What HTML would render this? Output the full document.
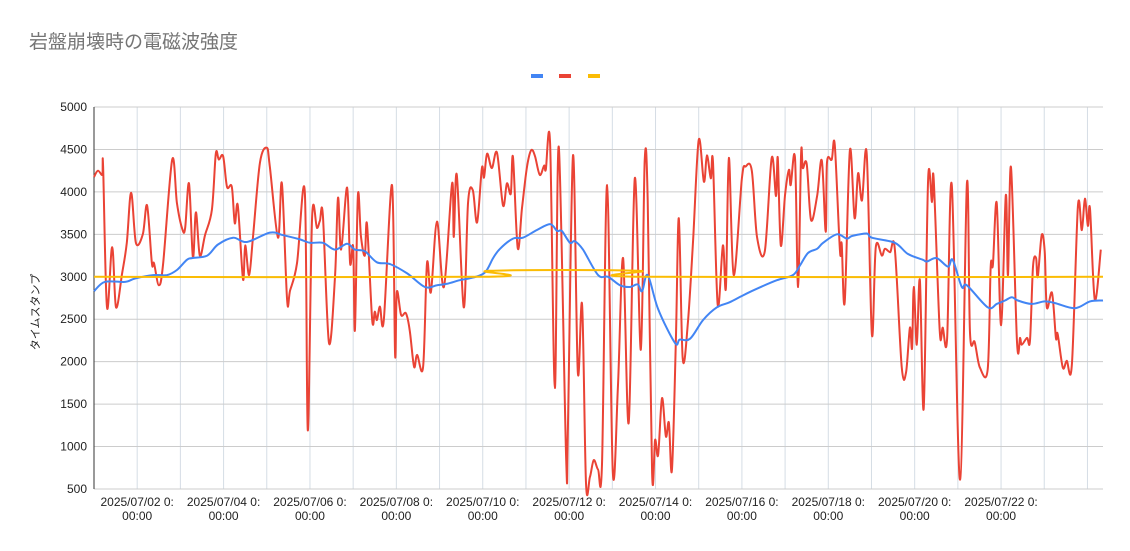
<!DOCTYPE html>
<html><head><meta charset="utf-8">
<style>
body{margin:0;background:#fff;}
svg{display:block;font-family:"Liberation Sans","Noto Sans CJK JP",sans-serif;}
</style></head>
<body>
<svg id="chart" width="1130" height="551" viewBox="0 0 1130 551" xmlns="http://www.w3.org/2000/svg">
<rect width="1130" height="551" fill="#fff"/>
<text x="29" y="48" font-size="19" fill="#757575">岩盤崩壊時の電磁波強度</text>
<g>
<rect x="531" y="74" width="12" height="4" fill="#4285f4"/>
<rect x="559" y="74" width="12" height="4" fill="#ea4335"/>
<rect x="588" y="74" width="12" height="4" fill="#fbbc04"/>
</g>
<text transform="translate(39,312) rotate(-90)" text-anchor="middle" font-size="11" fill="#222">タイムスタンプ</text>
<g id="grid"></g><g id="yticks"></g><g id="xticks"></g><g id="series"></g>
</svg>
<script>
const yTicks=[500,1000,1500,2000,2500,3000,3500,4000,4500,5000];
const xTickDays=[1,3,5,7,9,11,13,15,17,19,21];
const xTickLabels=["2025/07/02 0:","2025/07/04 0:","2025/07/06 0:","2025/07/08 0:","2025/07/10 0:","2025/07/12 0:","2025/07/14 0:","2025/07/16 0:","2025/07/18 0:","2025/07/20 0:","2025/07/22 0:"];
const dayMax=23.36;
const blueDays=[0,0.25,0.72,0.95,1.37,1.69,1.92,2.15,2.27,2.62,2.87,3.22,3.54,4.07,4.38,4.77,5.00,5.30,5.58,5.86,6.04,6.27,6.55,6.85,7.25,7.66,7.94,8.19,8.47,8.77,9.05,9.24,9.40,9.70,9.93,10.25,10.56,10.72,10.83,11.02,11.13,11.32,11.67,11.90,12.18,12.41,12.59,12.69,12.82,13.06,13.45,13.56,13.80,14.10,14.42,14.72,15.02,15.35,15.81,16.18,16.34,16.53,16.74,16.88,17.20,17.43,17.55,17.89,18.01,18.54,18.84,19.19,19.28,19.51,19.77,19.88,20.09,20.21,20.69,20.90,21.09,21.25,21.39,21.71,22.01,22.25,22.71,23.06,23.36];
const blueValues=[2830,2940,2940,2980,3020,3020,3080,3200,3220,3250,3380,3460,3410,3520,3490,3440,3400,3400,3320,3390,3320,3300,3170,3150,3040,2880,2900,2920,2960,2990,3050,3220,3330,3450,3460,3550,3620,3540,3540,3400,3420,3320,3020,3000,2900,2880,2910,2830,3020,2620,2220,2260,2270,2490,2640,2700,2780,2860,2960,3020,3130,3280,3330,3400,3500,3450,3480,3510,3460,3400,3270,3200,3180,3220,3120,3200,2880,2900,2640,2680,2720,2760,2720,2680,2710,2690,2630,2710,2720];
const redDays=[0,0.09,0.19,0.21,0.30,0.42,0.51,0.65,0.76,0.86,0.97,1.13,1.23,1.34,1.39,1.50,1.60,1.81,1.92,2.04,2.11,2.20,2.29,2.36,2.45,2.57,2.73,2.82,2.89,2.99,3.08,3.19,3.26,3.33,3.45,3.50,3.59,3.68,3.84,4.00,4.07,4.26,4.35,4.47,4.54,4.70,4.88,4.95,5.05,5.16,5.23,5.30,5.44,5.58,5.65,5.72,5.86,5.93,6.00,6.04,6.11,6.18,6.27,6.32,6.44,6.50,6.55,6.62,6.71,6.90,6.97,7.01,7.11,7.22,7.31,7.41,7.48,7.62,7.71,7.80,7.94,8.10,8.29,8.33,8.40,8.56,8.66,8.77,8.87,8.98,9.03,9.10,9.21,9.33,9.47,9.56,9.65,9.70,9.81,9.91,10.02,10.12,10.21,10.32,10.42,10.46,10.56,10.67,10.76,10.93,10.97,11.09,11.20,11.30,11.39,11.48,11.57,11.67,11.76,11.88,12.01,12.13,12.25,12.38,12.52,12.66,12.75,12.82,12.92,12.99,13.06,13.15,13.24,13.31,13.38,13.47,13.54,13.63,13.75,13.87,14.00,14.12,14.19,14.28,14.33,14.44,14.56,14.63,14.70,14.81,15.00,15.09,15.23,15.35,15.53,15.69,15.79,15.83,15.90,16.00,16.09,16.13,16.23,16.30,16.37,16.41,16.50,16.60,16.74,16.85,16.94,16.97,17.08,17.15,17.27,17.31,17.38,17.50,17.61,17.69,17.78,17.89,18.01,18.10,18.24,18.31,18.43,18.54,18.70,18.80,18.89,18.94,18.98,19.05,19.12,19.21,19.31,19.40,19.44,19.58,19.65,19.75,19.86,20.05,20.21,20.28,20.39,20.51,20.69,20.76,20.81,20.90,21.00,21.11,21.16,21.23,21.37,21.44,21.48,21.60,21.67,21.74,21.81,21.85,21.94,22.01,22.06,22.18,22.27,22.31,22.43,22.52,22.64,22.78,22.87,22.94,23.01,23.06,23.17,23.31];
const redValues=[4175,4250,4200,4300,2640,3350,2640,3040,3400,3990,3400,3500,3840,3160,3160,2900,3150,4380,3870,3570,3570,4100,3230,3760,3250,3490,3790,4450,4380,4420,4060,4060,3630,3840,2970,3370,3020,3470,4340,4520,4300,3460,4100,2730,2840,3160,4000,1190,3700,3575,3660,3720,2220,3000,3930,3320,4050,3160,3350,2370,3960,3480,3250,3620,2490,2590,2490,2650,2490,4080,2080,2820,2550,2570,2370,1940,2080,1940,3160,2820,3650,2880,4100,3470,4200,2640,3880,4020,3640,4280,4170,4450,4280,4460,3840,4100,3980,4410,3340,3810,4280,4490,4420,4200,4310,4260,4570,1690,4530,880,1160,4430,1880,2670,570,640,840,730,790,4080,700,1700,3220,1280,4160,2140,4370,3900,690,1080,900,1570,1120,1280,720,2220,3690,2040,2460,3430,4610,4120,4430,4160,4350,2670,3370,2870,4400,3020,4160,4300,4250,3470,3300,4400,3950,4400,3370,3970,4260,4080,4400,2880,4450,4280,4330,3670,3950,4370,3530,4350,4380,4550,3300,3390,2700,4490,3690,4220,3900,4450,2320,3350,3250,3330,3290,3330,1940,1870,2400,2160,2880,2200,2960,1450,4140,3880,4150,2370,2400,2270,4080,610,4100,2340,2230,1930,1910,3120,3140,3870,2430,3960,3020,4290,2230,2280,2200,2280,2250,3120,3220,3000,3490,3300,2640,2810,2280,2330,1930,2010,1970,3830,3550,3920,3600,3800,2730,3320];
const yellowDays=[0,9.07,9.15,12.60,12.68,23.36];
const yellowValues=[3000,3000,3070,3070,3000,3000];

const X0=94,X1=1103,Y0=489,Y1=107,VMIN=500,VMAX=5000;
const xs=d=>X0+(d/dayMax)*(X1-X0);
const ys=v=>Y0-(v-VMIN)/(VMAX-VMIN)*(Y0-Y1);
const NS="http://www.w3.org/2000/svg";
function mk(tag,parent){const e=document.createElementNS(NS,tag);parent.appendChild(e);return e;}
const grid=document.getElementById('grid'),yt=document.getElementById('yticks'),xt=document.getElementById('xticks'),ser=document.getElementById('series');
for(let d=1;d<dayMax;d++){
  const l=mk('line',grid);
  
  
  l.setAttribute('x1',xs(d));l.setAttribute('x2',xs(d));l.setAttribute('y1',Y1);l.setAttribute('y2',Y0);
  l.setAttribute('stroke','#d5dde5');l.setAttribute('stroke-width','1');
}
yTicks.forEach(v=>{
  const l=mk('line',grid);
  
  
  l.setAttribute('x1',X0);l.setAttribute('x2',X1);l.setAttribute('y1',ys(v));l.setAttribute('y2',ys(v));
  l.setAttribute('stroke','#cccccc');l.setAttribute('stroke-width','1');
  const t=mk('text',yt);
  
  
  t.setAttribute('x',87);t.setAttribute('y',ys(v)+4);t.setAttribute('text-anchor','end');t.setAttribute('font-size','12');t.setAttribute('fill','#222');
  t.textContent=v;
});
xTickDays.forEach((d,i)=>{
  const t=mk('text',xt);
  
  
  t.setAttribute('text-anchor','middle');t.setAttribute('font-size','12');t.setAttribute('fill','#222');
  const a=mk('tspan',t);a.setAttribute('x',xs(d));a.setAttribute('y',506);a.textContent=xTickLabels[i];
  const b=mk('tspan',t);b.setAttribute('x',xs(d));b.setAttribute('y',520);b.textContent='00:00';
});
const ax=mk('line',grid);


ax.setAttribute('x1',X0);ax.setAttribute('x2',X0);ax.setAttribute('y1',Y1);ax.setAttribute('y2',Y0);ax.setAttribute('stroke','#333');
function smooth(days,vals){
  const p=days.map((d,i)=>[xs(d),ys(vals[i])]);
  let s='M'+p[0][0].toFixed(1)+','+p[0][1].toFixed(1);
  for(let i=0;i<p.length-1;i++){
    const p0=p[i-1]||p[i],p1=p[i],p2=p[i+1],p3=p[i+2]||p2;
    const c1=[p1[0]+(p2[0]-p0[0])/6,p1[1]+(p2[1]-p0[1])/6];
    const c2=[p2[0]-(p3[0]-p1[0])/6,p2[1]-(p3[1]-p1[1])/6];
    s+='C'+c1[0].toFixed(1)+','+c1[1].toFixed(1)+' '+c2[0].toFixed(1)+','+c2[1].toFixed(1)+' '+p2[0].toFixed(1)+','+p2[1].toFixed(1);
  }
  return s;
}
function line(days,vals,color,name){
  const p=mk('path',ser);
  
  
  p.setAttribute('d',smooth(days,vals));p.setAttribute('fill','none');p.setAttribute('stroke',color);p.setAttribute('stroke-width','2');p.setAttribute('stroke-linejoin','round');
}
line(redDays,redValues,'#ea4335','red-series-line');
line(blueDays,blueValues,'#4285f4','blue-series-line');
line(yellowDays,yellowValues,'#fbbc04','yellow-series-line');
</script>
</body></html>
